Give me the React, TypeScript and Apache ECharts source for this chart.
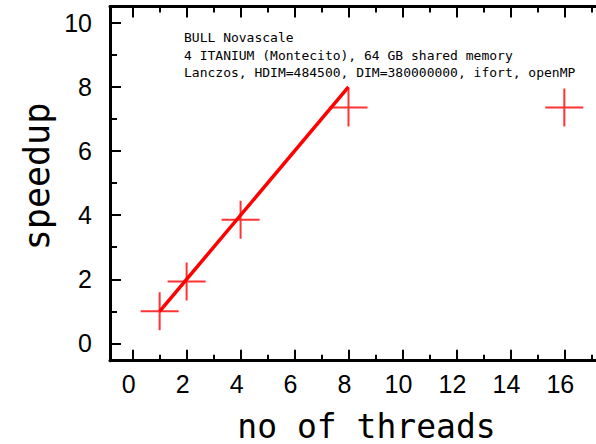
import React, { useEffect, useRef } from "react";
import * as echarts from "echarts";

// Data
const threads = [1, 2, 4, 8, 16];
const speedup = [1.0, 1.93, 3.86, 7.36, 7.36];
const idealX = [1, 8];
const idealY = [1, 8];

const xMajorTicks = [0, 2, 4, 6, 8, 10, 12, 14, 16, 18];
const xLabelValues = [0, 2, 4, 6, 8, 10, 12, 14, 16];
const xMinorTicks = [1, 3, 5, 7, 9, 11, 13, 15, 17];
const yMajorTicks = [0, 2, 4, 6, 8, 10];
const yMinorTicks = [1, 3, 5, 7, 9];

const annotationLines = [
  "BULL Novascale",
  "4 ITANIUM (Montecito), 64 GB shared memory",
  "Lanczos, HDIM=484500, DIM=380000000, ifort, openMP",
];
const xTitle = "no of threads";
const yTitle = "speedup";

const X_MIN = -0.84;
const X_MAX = 18.5;
const Y_MIN = -0.54;
const Y_MAX = 10.51;

const MONO = "'DejaVu Sans Mono', monospace";
const SANS = "'Liberation Sans', Arial, sans-serif";

export default function App() {
  const ref = useRef<HTMLDivElement>(null);

  useEffect(() => {
    if (!ref.current) return;
    const chart = echarts.init(ref.current, undefined, { renderer: "svg" });

    const xBase = (position: string, ticks: number[], len: number, showLine: boolean, labels: boolean) => ({
      type: "value",
      position,
      min: X_MIN,
      max: X_MAX,
      gridIndex: 0,
      splitLine: { show: false },
      axisLine: { show: showLine, onZero: false, lineStyle: { color: "#000", width: 3 } },
      axisTick: {
        show: true,
        inside: true,
        length: len,
        customValues: ticks,
        lineStyle: { color: "#000", width: 2 },
      },
      axisLabel: labels
        ? {
            show: true,
            customValues: xLabelValues,
            fontSize: 25,
            fontFamily: SANS,
            color: "#000",
            margin: 11,
            padding: [0, 8, 0, 0],
          }
        : { show: false },
    });

    const yBase = (ticks: number[], len: number, showLine: boolean, labels: boolean) => ({
      type: "value",
      position: "left",
      min: Y_MIN,
      max: Y_MAX,
      gridIndex: 0,
      splitLine: { show: false },
      axisLine: { show: showLine, onZero: false, lineStyle: { color: "#000", width: 3 } },
      axisTick: {
        show: true,
        inside: true,
        length: len,
        customValues: ticks,
        lineStyle: { color: "#000", width: 2 },
      },
      axisLabel: labels
        ? {
            show: true,
            customValues: yMajorTicks,
            fontSize: 25,
            fontFamily: SANS,
            color: "#000",
            margin: 18,
          }
        : { show: false },
    });

    const gridWidth = (X_MAX - X_MIN) * 26.98;

    chart.setOption({
      animation: false,
      backgroundColor: "#fff",
      grid: { left: 110, top: 6.5, width: gridWidth, height: 354.2, containLabel: false },
      xAxis: [
        xBase("bottom", xMajorTicks, 11, true, true),
        xBase("bottom", xMinorTicks, 6, false, false),
        xBase("top", xMajorTicks, 11, true, false),
        xBase("top", xMinorTicks, 6, false, false),
      ],
      yAxis: [yBase(yMajorTicks, 11, true, true), yBase(yMinorTicks, 7, false, false)],
      series: [
        {
          type: "line",
          xAxisIndex: 0,
          yAxisIndex: 0,
          data: idealX.map((x, i) => [x, idealY[i]]),
          showSymbol: false,
          lineStyle: { color: "#ff0000", width: 3.5 },
          z: 3,
        },
        {
          type: "scatter",
          xAxisIndex: 0,
          yAxisIndex: 0,
          data: threads.map((x, i) => [x, speedup[i]]),
          symbol: "path://M0,10L20,10M10,0L10,20",
          symbolSize: 38,
          itemStyle: { color: "transparent", borderColor: "#ff0000", borderWidth: 2 },
          z: 4,
        },
      ],
      graphic: [
        ...annotationLines.map((t, i) => ({
          type: "text",
          x: 184,
          y: 37.5 + i * 17.7,
          style: {
            text: t,
            fontSize: 13,
            lineHeight: 14,
            fontFamily: MONO,
            fill: "#000",
            align: "left",
            verticalAlign: "middle",
          },
        })),
        {
          type: "text",
          x: 366.5,
          y: 426,
          style: {
            text: xTitle,
            fontSize: 33,
            lineHeight: 33,
            fontFamily: MONO,
            fill: "#000",
            align: "center",
            verticalAlign: "middle",
          },
        },
        {
          type: "text",
          x: 37,
          y: 176.5,
          rotation: Math.PI / 2,
          style: {
            text: yTitle,
            fontSize: 35,
            lineHeight: 35,
            fontFamily: MONO,
            fill: "#000",
            align: "center",
            verticalAlign: "middle",
          },
        },
      ],
    });

    return () => chart.dispose();
  }, []);

  return (
    <div style={{ position: "fixed", left: 0, top: 0, width: 596, height: 444, overflow: "hidden", background: "#fff" }}>
      <div ref={ref} style={{ width: 640, height: 444 }} />
    </div>
  );
}
